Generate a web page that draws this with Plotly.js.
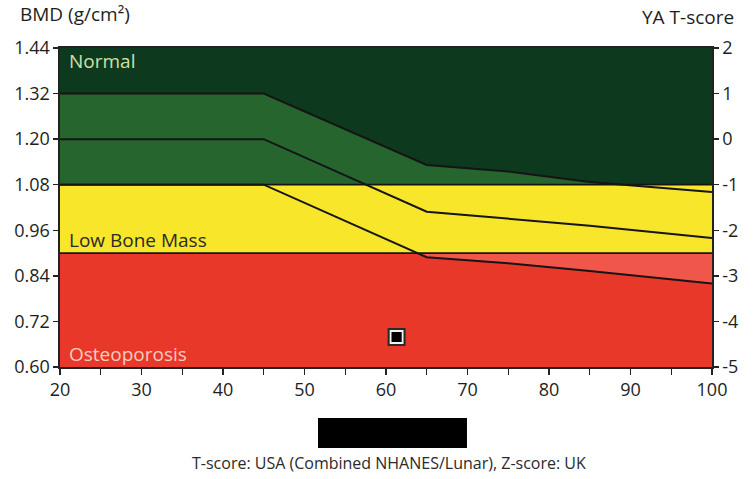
<!DOCTYPE html>
<html>
<head>
<meta charset="utf-8">
<script src="https://cdn.plot.ly/plotly-3.0.1.min.js"></script>
<style>html,body{margin:0;padding:0;background:#fff;}#chart{width:756px;height:479px;}</style>
</head>
<body>
<div id="chart"></div>
<script>
// ---- data ----
const ages        = [20, 45, 65, 75, 85, 100];
const curvePlus1  = [1.32, 1.32, 1.132, 1.115, 1.087, 1.061]; // mean + 1 SD
const curveMean   = [1.20, 1.20, 1.009, 0.990, 0.972, 0.940]; // reference mean
const curveMinus1 = [1.08, 1.08, 0.889, 0.873, 0.853, 0.820]; // mean - 1 SD
const patientAge  = [61.3];
const patientBMD  = [0.679];
const zoneLimits  = [0.60, 0.90, 1.08, 1.44]; // osteoporosis / low bone mass / normal
const bmdTicks    = [0.60, 0.72, 0.84, 0.96, 1.08, 1.20, 1.32, 1.44];
const tTicks      = [-5, -4, -3, -2, -1, 0, 1, 2];
const tLabels     = ['-5', '-4', '-3', '-2', '-1', '0', '1', '2'];
const ageTicks    = [20, 30, 40, 50, 60, 70, 80, 90, 100];
const zoneNames   = ['Normal', 'Low Bone Mass', 'Osteoporosis'];

// clamp a polyline into [lo, hi], inserting crossing points
function clampLine(xs, ys, lo, hi) {
  const ox = [], oy = [];
  const cl = v => Math.min(hi, Math.max(lo, v));
  for (let i = 0; i < xs.length; i++) {
    if (i > 0) {
      const x0 = xs[i-1], y0 = ys[i-1], x1 = xs[i], y1 = ys[i];
      const cuts = [];
      [lo, hi].forEach(l => {
        if ((y0 - l) * (y1 - l) < 0) cuts.push(x0 + (l - y0) / (y1 - y0) * (x1 - x0));
      });
      cuts.sort((a, b) => a - b).forEach(cx => {
        const cy = y0 + (cx - x0) / (x1 - x0) * (y1 - y0);
        ox.push(cx); oy.push(cl(cy));
      });
    }
    ox.push(xs[i]); oy.push(cl(ys[i]));
  }
  return [ox, oy];
}
function bandPoly(lo, hi) {
  const [ux, uy] = clampLine(ages, curvePlus1, lo, hi);
  const [lx, ly] = clampLine(ages, curveMinus1, lo, hi);
  return { x: ux.concat(lx.slice().reverse()), y: uy.concat(ly.slice().reverse()) };
}

const xMin = ages[0], xMax = ages[ages.length - 1];
const darkGreen = '#0d3a1f', lightGreen = '#27652f';
const yellow = '#f8e62a';
const red = '#e8382a', lightRed = '#f0574a';
const fam = 'Open Sans, Noto Sans, sans-serif';

const shapes = [
  {type:'rect', xref:'x', yref:'y', layer:'below', x0:xMin, x1:xMax, y0:zoneLimits[2], y1:zoneLimits[3], fillcolor:darkGreen, line:{width:0}},
  {type:'rect', xref:'x', yref:'y', layer:'below', x0:xMin, x1:xMax, y0:zoneLimits[1], y1:zoneLimits[2], fillcolor:yellow, line:{width:0}},
  {type:'rect', xref:'x', yref:'y', layer:'below', x0:xMin, x1:xMax, y0:zoneLimits[0], y1:zoneLimits[1], fillcolor:red, line:{width:0}},
  {type:'line', xref:'x', yref:'y', x0:xMin, x1:xMax, y0:zoneLimits[2], y1:zoneLimits[2], line:{color:'#151515', width:1.8}},
  {type:'line', xref:'x', yref:'y', x0:xMin, x1:xMax, y0:zoneLimits[1], y1:zoneLimits[1], line:{color:'#151515', width:1.8}},
  // redaction box below the axis
  {type:'rect', xref:'paper', yref:'paper', x0:0.3957, x1:0.6242, y0:-0.254, y1:-0.160, fillcolor:'#000', line:{width:0}}
];

const gBand = bandPoly(zoneLimits[2], zoneLimits[3]);
const rBand = bandPoly(zoneLimits[0], zoneLimits[1]);

const traces = [
  {x:gBand.x, y:gBand.y, type:'scatter', mode:'lines', fill:'toself', fillcolor:lightGreen, line:{width:0}, hoverinfo:'skip', showlegend:false},
  {x:rBand.x, y:rBand.y, type:'scatter', mode:'lines', fill:'toself', fillcolor:lightRed, line:{width:0}, hoverinfo:'skip', showlegend:false},
  {x:ages, y:curvePlus1, type:'scatter', mode:'lines', line:{color:'#151515', width:2}, showlegend:false},
  {x:ages, y:curveMean, type:'scatter', mode:'lines', line:{color:'#151515', width:2}, showlegend:false},
  {x:ages, y:curveMinus1, type:'scatter', mode:'lines', line:{color:'#151515', width:2}, showlegend:false},
  {x:patientAge, y:patientBMD, type:'scatter', mode:'markers', marker:{symbol:'square', size:18, color:'#2a2a2a'}, showlegend:false},
  {x:patientAge, y:patientBMD, type:'scatter', mode:'markers', marker:{symbol:'square', size:12, color:'#000', line:{color:'#f2f2f2', width:1.8}}, showlegend:false},
  {x:[xMin], y:[0], yaxis:'y2', type:'scatter', mode:'markers', marker:{opacity:0}, hoverinfo:'skip', showlegend:false}
];

const tickFont = {family:fam, size:18, color:'#1e1e1e'};
const layout = {
  width:756, height:479,
  margin:{l:60, r:44, t:48, b:112},
  paper_bgcolor:'#fff', plot_bgcolor:'#fff',
  showlegend:false,
  xaxis:{range:[xMin, xMax], tickvals:ageTicks, ticks:'outside', ticklen:6, tickwidth:1.4, tickcolor:'#222',
         minor:{dtick:5, tick0:20, ticks:'outside', ticklen:6, tickwidth:1.4, tickcolor:'#222'},
         showgrid:false, zeroline:false, showline:true, linecolor:'#222', linewidth:1.6, mirror:true,
         tickfont:tickFont},
  yaxis:{range:[zoneLimits[0], zoneLimits[3]], tickvals:bmdTicks, tickformat:'.2f', ticks:'outside', ticklen:5, tickwidth:1.4, tickcolor:'#222',
         showgrid:false, zeroline:false, showline:true, linecolor:'#222', linewidth:1.6, tickfont:tickFont},
  yaxis2:{range:[tTicks[0], tTicks[tTicks.length-1]], overlaying:'y', side:'right', tickvals:tTicks, ticktext:tLabels,
          ticks:'outside', ticklen:5, tickwidth:1.4, tickcolor:'#222', showgrid:false, zeroline:false,
          showline:true, linecolor:'#222', linewidth:1.6, tickfont:tickFont},
  shapes:shapes,
  annotations:[
    {text:'BMD (g/cm²)', xref:'paper', yref:'paper', x:-0.064, y:1.108, xanchor:'left', yanchor:'middle', showarrow:false,
     font:{family:fam, size:19, color:'#1e1e1e'}},
    {text:'YA T-score', xref:'paper', yref:'paper', x:1.037, y:1.098, xanchor:'right', yanchor:'middle', showarrow:false,
     font:{family:fam, size:19, color:'#1e1e1e'}},
    {text:zoneNames[0], xref:'paper', yref:'paper', x:0.01, y:0.958, xanchor:'left', yanchor:'middle', showarrow:false,
     font:{family:fam, size:19, color:'#cfe0a8'}},
    {text:zoneNames[1], xref:'paper', yref:'paper', x:0.01, y:0.397, xanchor:'left', yanchor:'middle', showarrow:false,
     font:{family:fam, size:19, color:'#2a2a2a'}},
    {text:zoneNames[2], xref:'paper', yref:'paper', x:0.01, y:0.04, xanchor:'left', yanchor:'middle', showarrow:false,
     font:{family:fam, size:19, color:'#f6cdbd'}},
    {text:'T-score: USA (Combined NHANES/Lunar), Z-score: UK', xref:'paper', yref:'paper', x:0.505, y:-0.301, xanchor:'center', yanchor:'middle', showarrow:false,
     font:{family:fam, size:16, color:'#2a2a2a'}}
  ]
};
Plotly.newPlot('chart', traces, layout, {displayModeBar:false, staticPlot:true});
</script>
</body>
</html>
